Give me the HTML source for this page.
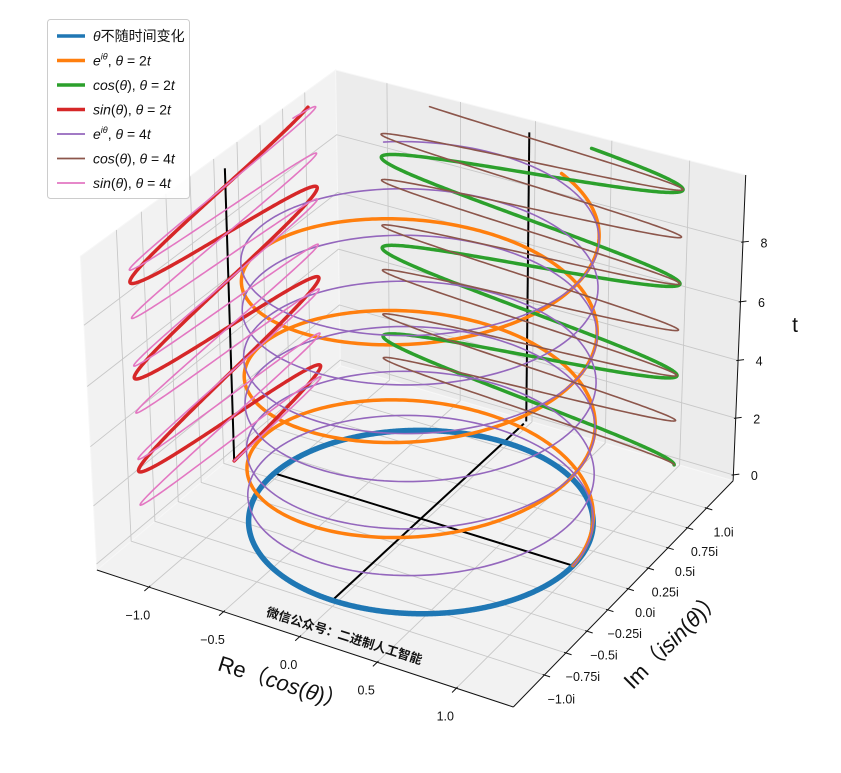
<!DOCTYPE html>
<html><head><meta charset="utf-8">
<style>
body{margin:0;background:#fff;}
svg text{font-family:"Liberation Sans","Noto Sans CJK SC",sans-serif;}
</style></head>
<body>
<svg id="chart" width="841" height="768" viewBox="0 0 841 768" xmlns="http://www.w3.org/2000/svg">
<g id="panes"></g>
<g id="grid"></g>
<g id="axes"></g>
<g id="series"></g>
<g id="labels"></g>
<text x="0" y="0" transform="translate(343,640) rotate(17.5)" text-anchor="middle" font-size="12.5" font-weight="bold" fill="#111">微信公众号：二进制人工智能</text>
<text transform="translate(280,690) rotate(17.5)" text-anchor="middle" font-size="22" fill="#111">Re（<tspan font-style="italic">cos</tspan>(<tspan font-style="italic">θ</tspan>)）</text>
<text transform="translate(678,645) rotate(-45)" text-anchor="middle" font-size="22" fill="#111">Im（<tspan font-style="italic">isin</tspan>(<tspan font-style="italic">θ</tspan>)）</text>
<text x="795" y="332" text-anchor="middle" font-size="21" fill="#111">t</text>
<g>
<rect x="47.5" y="19.5" width="142" height="179" rx="3" fill="#fff" fill-opacity="0.85" stroke="#ccc"/>
<g id="legend-entries"></g>
</g>
</svg>
<script>
// ---------- data ----------
const tStart = 0, tEnd = 10;
const rateSlow = 2, rateFast = 4;
const wallX = -1.28, wallY = 1.28;
const xLim = [-1.3, 1.3], yLim = [-1.3, 1.3], zLim = [0, 10];
const xTicks = [-1.0, -0.5, 0.0, 0.5, 1.0];
const xTickLabels = ["−1.0", "−0.5", "0.0", "0.5", "1.0"];
const yTicks = [-1.0, -0.75, -0.5, -0.25, 0.0, 0.25, 0.5, 0.75, 1.0];
const yTickLabels = ["−1.0i", "−0.75i", "−0.5i", "−0.25i", "0.0i", "0.25i", "0.5i", "0.75i", "1.0i"];
const zTicks = [0, 2, 4, 6, 8];
const zTickLabels = ["0", "2", "4", "6", "8"];
const seriesNames = ["θ不随时间变化", "e^iθ, θ=2t", "cos(θ), θ=2t", "sin(θ), θ=2t", "e^iθ, θ=4t", "cos(θ), θ=4t", "sin(θ), θ=4t"];
const seriesColors = ["#1f77b4", "#ff7f0e", "#2ca02c", "#d62728", "#9467bd", "#8c564b", "#e377c2"];

// ---------- projection ----------
const NS = "http://www.w3.org/2000/svg";
const D2R = Math.PI / 180;
const elev = 30 * D2R, azim = -60 * D2R;
const bn = Math.sqrt(41), bs = 1.8294640721620434 / bn;
const box = [4 * bs, 4 * bs, 3 * bs];
const Rc = [box[0] / 2, box[1] / 2, box[2] / 2];
const eye = [Rc[0] + 10 * Math.cos(elev) * Math.cos(azim), Rc[1] + 10 * Math.cos(elev) * Math.sin(azim), Rc[2] + 10 * Math.sin(elev)];
function sub(a, b) { return [a[0] - b[0], a[1] - b[1], a[2] - b[2]]; }
function dot(a, b) { return a[0] * b[0] + a[1] * b[1] + a[2] * b[2]; }
function cross(a, b) { return [a[1] * b[2] - a[2] * b[1], a[2] * b[0] - a[0] * b[2], a[0] * b[1] - a[1] * b[0]]; }
function nrm(a) { const l = Math.hypot(a[0], a[1], a[2]); return [a[0] / l, a[1] / l, a[2] / l]; }
const W = nrm(sub(eye, Rc)); const U = nrm(cross([0, 0, 1], W)); const V = cross(W, U);
function rawProj(x, y, z) {
  const p = [(x - xLim[0]) / (xLim[1] - xLim[0]) * box[0], (y - yLim[0]) / (yLim[1] - yLim[0]) * box[1], (z - zLim[0]) / (zLim[1] - zLim[0]) * box[2]];
  const q = sub(p, eye); const pz = dot(W, q);
  return [dot(U, q) / -pz, dot(V, q) / -pz];
}
const dx = (xLim[1] - xLim[0]) / 48, dy = (yLim[1] - yLim[0]) / 48, dz = (zLim[1] - zLim[0]) / 48;
const PX = [xLim[0] - dx, xLim[1] + dx], PY = [yLim[0] - dy, yLim[1] + dy], PZ = [zLim[0] - dz, zLim[1] + dz];
const calib = [
  [[PX[0], PY[0], PZ[0]], [95, 572]], [[PX[1], PY[0], PZ[0]], [515, 705]], [[PX[1], PY[1], PZ[0]], [732, 482]],
  [[PX[0], PY[1], PZ[1]], [335, 70]], [[PX[0], PY[0], PZ[1]], [82, 255]], [[PX[1], PY[1], PZ[1]], [746, 175]]];
function solve3(M, b) {
  const A = M.map((r, i) => r.concat([b[i]]));
  for (let i = 0; i < 3; i++) { let p = i; for (let k = i + 1; k < 3; k++) if (Math.abs(A[k][i]) > Math.abs(A[p][i])) p = k; [A[i], A[p]] = [A[p], A[i]];
    for (let k = 0; k < 3; k++) if (k !== i) { const f = A[k][i] / A[i][i]; for (let j = i; j < 4; j++) A[k][j] -= f * A[i][j]; } }
  return [A[0][3] / A[0][0], A[1][3] / A[1][1], A[2][3] / A[2][2]];
}
function fit(idx) {
  const M = [[0, 0, 0], [0, 0, 0], [0, 0, 0]], b = [0, 0, 0];
  calib.forEach(c => { const r = rawProj(...c[0]); const v = [r[0], r[1], 1];
    for (let i = 0; i < 3; i++) { b[i] += v[i] * c[1][idx]; for (let j = 0; j < 3; j++) M[i][j] += v[i] * v[j]; } });
  return solve3(M, b);
}
const FX = fit(0), FY = fit(1);
function P(x, y, z) { const r = rawProj(x, y, z); return [FX[0] * r[0] + FX[1] * r[1] + FX[2], FY[0] * r[0] + FY[1] * r[1] + FY[2]]; }

function el(tag, attrs, parent) { const e = document.createElementNS(NS, tag); for (const k in attrs) e.setAttribute(k, attrs[k]); parent.appendChild(e); return e; }
function pts(list) { return list.map(p => { const q = P(...p); return q[0].toFixed(2) + "," + q[1].toFixed(2); }).join(" "); }
function nrmd(a, b) { const d = [b[0] - a[0], b[1] - a[1]]; const l = Math.hypot(d[0], d[1]); return [d[0] / l, d[1] / l]; }

// panes
const panes = document.getElementById("panes");
const paneDefs = [
  ["floor-pane", [[PX[0], PY[0], PZ[0]], [PX[1], PY[0], PZ[0]], [PX[1], PY[1], PZ[0]], [PX[0], PY[1], PZ[0]]], "#f2f2f2"],
  ["left-pane", [[PX[0], PY[0], PZ[0]], [PX[0], PY[1], PZ[0]], [PX[0], PY[1], PZ[1]], [PX[0], PY[0], PZ[1]]], "#f2f2f2"],
  ["back-pane", [[PX[0], PY[1], PZ[0]], [PX[1], PY[1], PZ[0]], [PX[1], PY[1], PZ[1]], [PX[0], PY[1], PZ[1]]], "#ececec"]];
paneDefs.forEach(d => { const p = el("polygon", { points: pts(d[1]), fill: d[2], stroke: "#f7f7f7", "stroke-width": 1 }, panes);
  
   });

// grid
const grid = document.getElementById("grid");
function gl(list, name) { const g = el("polyline", { points: pts(list), fill: "none", stroke: "#c8c8c8", "stroke-width": 0.9 }, grid);
  
   }
xTicks.forEach(x => gl([[x, PY[0], PZ[0]], [x, PY[1], PZ[0]], [x, PY[1], PZ[1]]], "x-gridline"));
yTicks.forEach(y => gl([[PX[1], y, PZ[0]], [PX[0], y, PZ[0]], [PX[0], y, PZ[1]]], "y-gridline"));
zTicks.forEach(z => gl([[PX[0], PY[0], z], [PX[0], PY[1], z], [PX[1], PY[1], z]], "z-gridline"));

// axes lines + ticks
const axes = document.getElementById("axes");
const labels = document.getElementById("labels");
function axLine(a, b, name) { const q1 = P(...a), q2 = P(...b);
  const l = el("line", { x1: q1[0], y1: q1[1], x2: q2[0], y2: q2[1], stroke: "#111", "stroke-width": 1 }, axes);
  
   }
axLine([PX[0], PY[0], PZ[0]], [PX[1], PY[0], PZ[0]], "x-axis-line");
axLine([PX[1], PY[0], PZ[0]], [PX[1], PY[1], PZ[0]], "y-axis-line");
axLine([PX[1], PY[1], PZ[0]], [PX[1], PY[1], PZ[1]], "z-axis-line");
function tick(a, dir, len, name) { const q = P(...a); const l = el("line", { x1: q[0] - dir[0] * len * 0.3, y1: q[1] - dir[1] * len * 0.3, x2: q[0] + dir[0] * len, y2: q[1] + dir[1] * len, stroke: "#111", "stroke-width": 1 }, axes);
  
   return q; }
function lab(q, txt, name) { const t = el("text", { x: q[0], y: q[1], "font-size": 12.5, fill: "#111", "text-anchor": "middle", "dominant-baseline": "middle" }, labels); t.textContent = txt;
  
   }
xTicks.forEach((x, i) => { const q = tick([x, PY[0], PZ[0]], nrmd(P(x, PY[0], PZ[0]), P(x, PY[0] - 1, PZ[0])), 6, "x-tick");
  lab([q[0] - 11, q[1] + 29], xTickLabels[i], "x-tick-label"); });
yTicks.forEach((y, i) => { const q = tick([PX[1], y, PZ[0]], nrmd(P(PX[1], y, PZ[0]), P(PX[1] + 1, y, PZ[0])), 6, "y-tick");
  lab([q[0] + 17, q[1] + 25], yTickLabels[i], "y-tick-label"); });
zTicks.forEach((z, i) => { const q = tick([PX[1], PY[1], z], nrmd(P(PX[1], PY[1], z), P(PX[1] + 1, PY[1] + 1, z)), 6, "z-tick");
  lab([q[0] + 21, q[1] + 2], zTickLabels[i], "z-tick-label"); });

// series
const series = document.getElementById("series");
function curve(fn, color, width, name) {
  const list = []; for (let t = tStart; t <= tEnd + 1e-9; t += 0.01) list.push(fn(t));
  const c = el("polyline", { points: pts(list), fill: "none", stroke: color, "stroke-width": width, "stroke-linejoin": "round", "stroke-linecap": "round" }, series);
  
  
}
function seg(a, b, name) { const q1 = P(...a), q2 = P(...b);
  const l = el("line", { x1: q1[0], y1: q1[1], x2: q2[0], y2: q2[1], stroke: "#000", "stroke-width": 2 }, series);
  
   }
seg([-1, 0, 0], [1, 0, 0], "real-axis-line");
seg([0, -1, 0], [0, 1.25, 0], "imag-axis-line");
seg([wallX, 0, 0], [wallX, 0, tEnd], "sin-wall-axis");
seg([0, wallY, 0], [0, wallY, tEnd], "cos-wall-axis");
curve(t => [Math.cos(t * 2 * Math.PI / tEnd), Math.sin(t * 2 * Math.PI / tEnd), 0], seriesColors[0], 5.5, "static-circle");
curve(t => [Math.cos(rateSlow * t), Math.sin(rateSlow * t), t], seriesColors[1], 3.5, "helix-2t");
curve(t => [Math.cos(rateSlow * t), wallY, t], seriesColors[2], 3.5, "cos-2t");
curve(t => [wallX, Math.sin(rateSlow * t), t], seriesColors[3], 3.5, "sin-2t");
curve(t => [Math.cos(rateFast * t), Math.sin(rateFast * t), t], seriesColors[4], 1.6, "helix-4t");
curve(t => [Math.cos(rateFast * t), wallY, t], seriesColors[5], 1.6, "cos-4t");
curve(t => [wallX, Math.sin(rateFast * t), t], seriesColors[6], 1.6, "sin-4t");

// legend
const lg = document.getElementById("legend-entries");
const legendHtml = [
  '<tspan font-style="italic">θ</tspan>不随时间变化',
  '<tspan font-style="italic">e</tspan><tspan font-style="italic" font-size="9" dy="-6">iθ</tspan><tspan dy="6">, </tspan><tspan font-style="italic">θ</tspan> = 2<tspan font-style="italic">t</tspan>',
  '<tspan font-style="italic">cos</tspan>(<tspan font-style="italic">θ</tspan>), <tspan font-style="italic">θ</tspan> = 2<tspan font-style="italic">t</tspan>',
  '<tspan font-style="italic">sin</tspan>(<tspan font-style="italic">θ</tspan>), <tspan font-style="italic">θ</tspan> = 2<tspan font-style="italic">t</tspan>',
  '<tspan font-style="italic">e</tspan><tspan font-style="italic" font-size="9" dy="-6">iθ</tspan><tspan dy="6">, </tspan><tspan font-style="italic">θ</tspan> = 4<tspan font-style="italic">t</tspan>',
  '<tspan font-style="italic">cos</tspan>(<tspan font-style="italic">θ</tspan>), <tspan font-style="italic">θ</tspan> = 4<tspan font-style="italic">t</tspan>',
  '<tspan font-style="italic">sin</tspan>(<tspan font-style="italic">θ</tspan>), <tspan font-style="italic">θ</tspan> = 4<tspan font-style="italic">t</tspan>'];
seriesNames.forEach((n, i) => {
  const y = 36 + i * 24.5;
  const g = el("g", {}, lg);
  
  
  const l = el("line", { x1: 57, y1: y, x2: 85, y2: y, stroke: seriesColors[i], "stroke-width": i < 4 ? 3.5 : 1.8 }, g);
  
  
  const t = el("text", { x: 93, y: y + 5, "font-size": 14, fill: "#111" }, g);
  
  
  t.innerHTML = legendHtml[i];
});
</script>
</body></html>
